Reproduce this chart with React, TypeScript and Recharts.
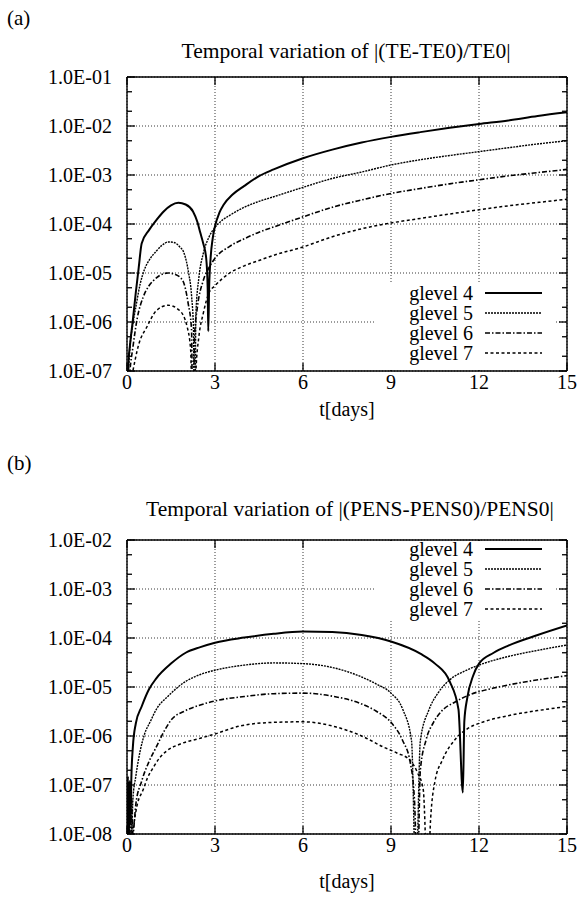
import React from 'react';
import { LineChart, Line, XAxis, YAxis, CartesianGrid, Legend, ReferenceLine } from 'recharts';

const FONT = '"Liberation Serif", "Times New Roman", serif';

// plot box size shared by both panels (px)
const PLOT_W = 440;
const PLOT_H = 294;

// shared axis ticks
const xTicks = [0, 3, 6, 9, 12, 15];
const teTicks = [1e-7, 1e-6, 1e-5, 1e-4, 1e-3, 1e-2, 1e-1];
const teMinor = [2e-7, 5e-7, 2e-6, 5e-6, 2e-5, 5e-5, 2e-4, 5e-4, 2e-3, 5e-3, 2e-2, 5e-2];
const pensTicks = [1e-8, 1e-7, 1e-6, 1e-5, 1e-4, 1e-3, 1e-2];
const pensMinor = [2e-8, 5e-8, 2e-7, 5e-7, 2e-6, 5e-6, 2e-5, 5e-5, 2e-4, 5e-4, 2e-3, 5e-3];

// (a) |(TE-TE0)/TE0|
const te4t = [0, 0.05, 0.1, 0.2, 0.3, 0.4, 0.5, 0.75, 1.0, 1.25, 1.5, 1.75, 2.0, 2.25, 2.4, 2.5, 2.6, 2.7, 2.75, 2.77, 2.8, 2.85, 2.92, 3.0, 3.15, 3.3, 3.6, 4, 4.5, 5, 6, 7, 8, 9, 10, 11, 12, 13, 14, 15];
const te4v = [1e-8, 1.5e-7, 3.3e-7, 1.1e-6, 4e-6, 1.3e-5, 4e-5, 7.5e-5, 1.2e-4, 1.8e-4, 2.4e-4, 2.7e-4, 2.5e-4, 1.8e-4, 1.1e-4, 6.6e-5, 4e-5, 2e-5, 5e-6, 6.5e-7, 5e-6, 2e-5, 5e-5, 9e-5, 1.7e-4, 2.5e-4, 4e-4, 6e-4, 9.5e-4, 1.3e-3, 2.2e-3, 3.3e-3, 4.6e-3, 6e-3, 7.5e-3, 9.2e-3, 1.1e-2, 1.3e-2, 1.6e-2, 1.9e-2];
const te5t = [0, 0.05, 0.1, 0.2, 0.3, 0.45, 0.6, 0.8, 1.0, 1.2, 1.4, 1.6, 1.8, 1.95, 2.1, 2.2, 2.27, 2.3, 2.35, 2.45, 2.6, 2.8, 3.0, 3.25, 3.5, 4, 4.5, 5, 6, 7, 8, 9, 10, 11, 12, 13, 14, 15];
const te5v = [1e-8, 1e-7, 3e-7, 9e-7, 2e-6, 6e-6, 1.2e-5, 2e-5, 2.8e-5, 3.7e-5, 4.3e-5, 4.2e-5, 3.4e-5, 2.5e-5, 1e-5, 3.5e-6, 6e-7, 1e-9, 1.5e-6, 8e-6, 2.5e-5, 5.5e-5, 8.5e-5, 1.2e-4, 1.5e-4, 2.2e-4, 2.9e-4, 3.6e-4, 5.6e-4, 8.5e-4, 1.15e-3, 1.6e-3, 2.05e-3, 2.5e-3, 3e-3, 3.6e-3, 4.3e-3, 5e-3];
const te6t = [0, 0.1, 0.2, 0.35, 0.55, 0.75, 0.9, 1.1, 1.4, 1.65, 1.9, 2.08, 2.2, 2.25, 2.3, 2.4, 2.6, 2.8, 3.0, 3.5, 4, 4.5, 5, 6, 7, 8, 9, 10, 11, 12, 13, 14, 15];
const te6v = [1e-8, 1e-7, 3e-7, 1.2e-6, 3.2e-6, 5.5e-6, 7e-6, 8.8e-6, 1e-5, 9.3e-6, 7e-6, 2.5e-6, 7e-7, 1e-9, 5e-7, 2e-6, 7e-6, 1.3e-5, 2e-5, 3.5e-5, 5e-5, 6.8e-5, 8.7e-5, 1.4e-4, 2.2e-4, 3.1e-4, 4.2e-4, 5.3e-4, 6.6e-4, 8e-4, 9.6e-4, 1.12e-3, 1.3e-3];
const te7t = [0, 0.1, 0.2, 0.4, 0.68, 1.0, 1.4, 1.8, 2.05, 2.17, 2.25, 2.35, 2.45, 2.6, 2.8, 3.0, 3.5, 4, 4.5, 5, 6, 7, 8, 9, 10, 11, 12, 13, 14, 15];
const te7v = [1e-9, 5e-8, 1e-7, 3.5e-7, 8e-7, 1.7e-6, 2.2e-6, 1.7e-6, 8e-7, 2.7e-7, 1e-9, 1e-7, 5e-7, 1.5e-6, 4e-6, 5.5e-6, 1e-5, 1.4e-5, 1.8e-5, 2.3e-5, 3.4e-5, 5.5e-5, 8e-5, 1.05e-4, 1.3e-4, 1.6e-4, 1.95e-4, 2.35e-4, 2.75e-4, 3.2e-4];

// (b) |(PENS-PENS0)/PENS0|
const pe4t = [0, 0.03, 0.06, 0.09, 0.12, 0.15, 0.2, 0.3, 0.5, 0.75, 1.0, 1.5, 2, 2.5, 3, 4, 5, 6, 7, 8, 9, 10, 10.5, 11, 11.3, 11.45, 11.5, 11.6, 11.8, 12, 12.5, 13, 14, 15];
const pe4v = [1e-9, 1.5e-7, 1e-8, 1.2e-7, 2e-8, 1.5e-7, 6e-7, 1.8e-6, 4e-6, 9e-6, 1.5e-5, 3e-5, 5e-5, 6.5e-5, 8e-5, 1.02e-4, 1.22e-4, 1.35e-4, 1.32e-4, 1.15e-4, 8.5e-5, 4.8e-5, 3e-5, 1.3e-5, 3.5e-6, 7e-8, 2e-6, 6e-6, 1.7e-5, 3e-5, 5e-5, 7e-5, 1.15e-4, 1.8e-4];
const pe5t = [0, 0.04, 0.08, 0.12, 0.16, 0.2, 0.3, 0.45, 0.6, 0.8, 1.0, 1.4, 2, 2.5, 3, 4, 5, 6, 7, 8, 8.5, 9, 9.4, 9.7, 9.85, 10.0, 10.3, 10.6, 11, 11.5, 12, 13, 14, 15];
const pe5v = [1e-9, 1e-7, 1e-8, 8e-8, 1e-8, 5e-8, 1.5e-7, 5e-7, 1.1e-6, 2e-6, 3.5e-6, 6.5e-6, 1.3e-5, 1.8e-5, 2.2e-5, 2.8e-5, 3.1e-5, 3e-5, 2.5e-5, 1.6e-5, 1.15e-5, 7.5e-6, 3.5e-6, 8e-7, 1e-9, 8e-7, 3.5e-6, 7.5e-6, 1.4e-5, 2.1e-5, 2.8e-5, 4.2e-5, 5.6e-5, 7.2e-5];
const pe6t = [0, 0.05, 0.1, 0.15, 0.2, 0.3, 0.5, 0.75, 1.0, 1.25, 1.5, 2, 2.5, 3, 4, 5, 6, 7, 8, 8.5, 9, 9.4, 9.65, 9.8, 9.9, 10.0, 10.2, 10.45, 10.7, 11.2, 11.7, 12.5, 13.5, 15];
const pe6v = [1e-9, 8e-8, 1e-8, 6e-8, 1e-8, 4e-8, 1.2e-7, 3e-7, 6e-7, 1.2e-6, 2.1e-6, 3.3e-6, 4.3e-6, 5.2e-6, 6.4e-6, 7.3e-6, 7.5e-6, 6.5e-6, 4.5e-6, 3.2e-6, 1.9e-6, 8e-7, 3e-7, 5e-8, 1e-9, 2e-7, 8.5e-7, 1.9e-6, 3.1e-6, 5e-6, 7e-6, 9.5e-6, 1.25e-5, 1.7e-5];
const pe7t = [0, 0.1, 0.2, 0.35, 0.55, 0.7, 0.9, 1.1, 1.36, 1.8, 2.5, 3, 3.85, 5, 6, 7, 8, 8.73, 9.2, 9.65, 9.9, 10.1, 10.25, 10.35, 10.5, 10.75, 11.2, 11.6, 12.1, 13, 14, 15];
const pe7v = [1e-9, 5e-9, 1.2e-8, 4e-8, 8e-8, 1.4e-7, 2.3e-7, 3.5e-7, 5e-7, 6.8e-7, 9e-7, 1.1e-6, 1.6e-6, 1.9e-6, 1.95e-6, 1.6e-6, 1e-6, 6e-7, 4.5e-7, 3.2e-7, 1.8e-7, 8e-8, 1e-9, 2e-8, 1.2e-7, 3.2e-7, 8.7e-7, 1.4e-6, 1.9e-6, 2.6e-6, 3.3e-6, 4e-6];

const names = ['glevel 4', 'glevel 5', 'glevel 6', 'glevel 7'];
const STYLES = [
  { width: 2, dash: undefined as string | undefined },
  { width: 1.4, dash: '2 1' },
  { width: 1.6, dash: '5 2 1.5 2' },
  { width: 1.5, dash: '3 2.5' },
];

const toRows = (t: number[], v: number[]) => t.map((x, i) => ({ t: x, v: v[i] }));

const teSeries = [toRows(te4t, te4v), toRows(te5t, te5v), toRows(te6t, te6v), toRows(te7t, te7v)];
const peSeries = [toRows(pe4t, pe4v), toRows(pe5t, pe5v), toRows(pe6t, pe6v), toRows(pe7t, pe7v)];

const fmtExp = (v: number) => {
  const e = Math.round(-Math.log10(v));
  return `1.0E-${e < 10 ? '0' + e : e}`;
};

// left axis: label on decades, inward tick marks on the left and right frame
const leftTick = (majors: number[]) => (props: any) => {
  const { x, y, payload } = props;
  const major = majors.includes(payload.value);
  const len = major ? 8 : 5;
  const ax = x + 15;
  return (
    <g>
      <line x1={ax} y1={y} x2={ax + len} y2={y} stroke="#000" strokeWidth={1.3} />
      <line x1={ax + PLOT_W} y1={y} x2={ax + PLOT_W - len} y2={y} stroke="#000" strokeWidth={1.3} />
      {major && (
        <text x={x} y={y} dy="0.355em" textAnchor="end" fontSize={20} fontFamily={FONT} fill="#000">
          {fmtExp(payload.value)}
        </text>
      )}
    </g>
  );
};

// bottom axis: label plus inward ticks on bottom and top frame
const bottomTick = (props: any) => {
  const { x, y, payload } = props;
  const ay = y - 4;
  return (
    <g>
      <line x1={x} y1={ay} x2={x} y2={ay - 8} stroke="#000" strokeWidth={1.3} />
      <line x1={x} y1={ay - PLOT_H} x2={x} y2={ay - PLOT_H + 8} stroke="#000" strokeWidth={1.3} />
      <text x={x} y={y} dy="0.71em" textAnchor="middle" fontSize={20} fontFamily={FONT} fill="#000">
        {payload.value}
      </text>
    </g>
  );
};

const LegendBox = ({ offset }: { offset: number }) => (
  <div style={{ position: 'relative', width: 180, height: 80, fontFamily: FONT, fontSize: 20, color: '#000' }}>
    {names.map((n, i) => (
      <div key={n} style={{ position: 'absolute', left: 0, top: offset + i * 20, width: 180, height: 20 }}>
        <span style={{ position: 'absolute', right: 82, top: 0, lineHeight: '20px', whiteSpace: 'nowrap' }}>{n}</span>
        <svg style={{ position: 'absolute', left: 110, top: 0 }} width={57} height={20}>
          <line x1={0} y1={10} x2={57} y2={10} stroke="#000" strokeWidth={STYLES[i].width} strokeDasharray={STYLES[i].dash} />
        </svg>
      </div>
    ))}
  </div>
);

interface PanelProps {
  top: number;
  height: number;
  marginTop: number;
  marginBottom: number;
  axisHeight: number;
  series: { t: number; v: number }[][];
  yTicks: number[];
  yMinor: number[];
  legendTop: number;
  legendHeight: number;
  legendOffset: number;
}

const Panel = ({ top, height, marginTop, marginBottom, axisHeight, series, yTicks, yMinor, legendTop, legendHeight, legendOffset }: PanelProps) => {
  const lo = yTicks[0];
  const hi = yTicks[yTicks.length - 1];
  const frame = { stroke: '#000', strokeWidth: 1.4 };
  return (
    <div style={{ position: 'absolute', left: 0, top, width: 577, height }}>
      <LineChart width={577} height={height} margin={{ top: marginTop, right: 10, bottom: marginBottom, left: 0 }}>
        <CartesianGrid stroke="#222" strokeWidth={0.9} strokeDasharray="1 2" horizontalValues={yTicks} verticalValues={xTicks} />
        <YAxis
          type="number"
          scale="log"
          domain={[lo, hi]}
          allowDataOverflow
          ticks={[...yTicks, ...yMinor]}
          interval={0}
          width={127}
          tickLine={false}
          tickSize={0}
          tickMargin={15}
          axisLine={frame}
          tick={leftTick(yTicks)}
        />
        <XAxis
          dataKey="t"
          type="number"
          domain={[0, 15]}
          allowDataOverflow
          ticks={xTicks}
          interval={0}
          height={axisHeight}
          tickLine={false}
          tickSize={0}
          tickMargin={4}
          axisLine={frame}
          tick={bottomTick}
          label={{ value: 't[days]', position: 'insideBottom', offset: 4, fontSize: 20, fill: '#000', fontFamily: FONT }}
        />
        <ReferenceLine y={hi} stroke="#000" strokeWidth={1.4} />
        <ReferenceLine x={15} stroke="#000" strokeWidth={1.4} />
        {series.map((rows, i) => (
          <Line
            key={names[i]}
            name={names[i]}
            data={rows}
            dataKey="v"
            type="monotone"
            stroke="#000"
            strokeWidth={STYLES[i].width}
            strokeDasharray={STYLES[i].dash}
            dot={false}
            activeDot={false}
            isAnimationActive={false}
          />
        ))}
        <Legend
          layout="vertical"
          align="center"
          verticalAlign="middle"
          wrapperStyle={{ left: 375, top: legendTop, width: 180, height: legendHeight, background: '#fff' }}
          content={() => <LegendBox offset={legendOffset} />}
        />
      </LineChart>
    </div>
  );
};

const textStyle: React.CSSProperties = {
  position: 'absolute',
  fontFamily: FONT,
  fontSize: 21,
  lineHeight: '24px',
  color: '#000',
  whiteSpace: 'nowrap',
};

export default function App() {
  return (
    <div style={{ position: 'absolute', left: 0, top: 0, width: 577, height: 901, background: '#fff', overflow: 'hidden' }}>
      <div style={{ ...textStyle, left: 7, top: 6 }}>(a)</div>
      <div style={{ ...textStyle, fontSize: 21.5, left: 146, width: 400, top: 39, textAlign: 'center' }}>Temporal variation of |(TE-TE0)/TE0|</div>
      <div style={{ ...textStyle, left: 7, top: 451 }}>(b)</div>
      <div style={{ ...textStyle, fontSize: 21.5, left: 146, width: 400, top: 497, textAlign: 'center' }}>Temporal variation of |(PENS-PENS0)/PENS0|</div>
      <Panel
        top={0}
        height={440}
        marginTop={77}
        marginBottom={20}
        axisHeight={49}
        series={teSeries}
        yTicks={teTicks}
        yMinor={teMinor}
        legendTop={283}
        legendHeight={87}
        legendOffset={0}
      />
      <Panel
        top={460}
        height={441}
        marginTop={80}
        marginBottom={9}
        axisHeight={58}
        series={peSeries}
        yTicks={pensTicks}
        yMinor={pensMinor}
        legendTop={81}
        legendHeight={80}
        legendOffset={-2}
      />
    </div>
  );
}
